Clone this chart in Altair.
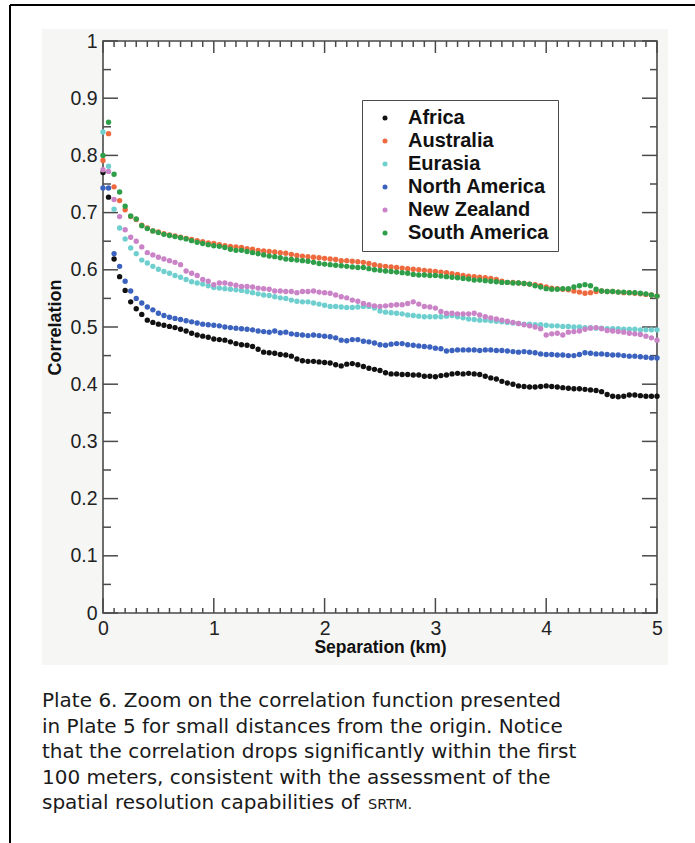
import altair as alt
import pandas as pd

# ---------------- data ----------------
separation_km = [round(0.05 * i, 2) for i in range(101)]  # sample grid, 0 .. 5 km

regions = ["Africa", "Australia", "Eurasia", "North America", "New Zealand", "South America"]
colors = ["#111111", "#EE6A3E", "#6FCFCF", "#3B62BE", "#C983C6", "#2E9E49"]

africa = [
    0.770, 0.727, 0.619, 0.588, 0.564, 0.544, 0.532, 0.522, 0.512, 0.508,
    0.505, 0.503, 0.501, 0.499, 0.496, 0.493, 0.489, 0.486, 0.484, 0.482,
    0.479, 0.478, 0.477, 0.474, 0.471, 0.469, 0.468, 0.466, 0.461, 0.456,
    0.455, 0.454, 0.452, 0.451, 0.449, 0.444, 0.441, 0.440, 0.440, 0.439,
    0.438, 0.437, 0.434, 0.432, 0.435, 0.436, 0.434, 0.431, 0.428, 0.426,
    0.424, 0.420, 0.418, 0.418, 0.417, 0.417, 0.416, 0.416, 0.414, 0.414,
    0.413, 0.415, 0.416, 0.418, 0.419, 0.418, 0.419, 0.418, 0.417, 0.414,
    0.411, 0.409, 0.405, 0.402, 0.400, 0.397, 0.396, 0.395, 0.395, 0.396,
    0.397, 0.396, 0.395, 0.394, 0.393, 0.392, 0.392, 0.391, 0.390, 0.389,
    0.387, 0.382, 0.379, 0.378, 0.379, 0.381, 0.381, 0.380, 0.379, 0.379,
    0.379,
]
australia = [
    0.791, 0.838, 0.745, 0.721, 0.705, 0.693, 0.688, 0.678, 0.673, 0.668,
    0.666, 0.663, 0.661, 0.659, 0.657, 0.655, 0.653, 0.651, 0.649, 0.647,
    0.646, 0.644, 0.642, 0.641, 0.640, 0.639, 0.637, 0.636, 0.634, 0.633,
    0.632, 0.631, 0.630, 0.629, 0.627, 0.625, 0.624, 0.623, 0.622, 0.621,
    0.620, 0.619, 0.618, 0.616, 0.616, 0.615, 0.614, 0.613, 0.611, 0.609,
    0.607, 0.606, 0.605, 0.604, 0.603, 0.602, 0.601, 0.600, 0.599, 0.598,
    0.597, 0.596, 0.595, 0.593, 0.592, 0.590, 0.589, 0.588, 0.587, 0.586,
    0.585, 0.583, 0.580, 0.578, 0.578, 0.577, 0.576, 0.575, 0.574, 0.572,
    0.570, 0.568, 0.567, 0.566, 0.565, 0.563, 0.561, 0.559, 0.560, 0.562,
    0.563, 0.562, 0.562, 0.561, 0.560, 0.560, 0.559, 0.558, 0.557, 0.556,
    0.554,
]
eurasia = [
    0.841, 0.781, 0.706, 0.673, 0.654, 0.638, 0.628, 0.617, 0.612, 0.606,
    0.601, 0.597, 0.594, 0.590, 0.587, 0.583, 0.579, 0.577, 0.575, 0.572,
    0.569, 0.568, 0.567, 0.566, 0.565, 0.564, 0.562, 0.560, 0.558, 0.556,
    0.555, 0.553, 0.551, 0.550, 0.547, 0.545, 0.544, 0.544, 0.542, 0.540,
    0.538, 0.536, 0.536, 0.535, 0.534, 0.534, 0.535, 0.536, 0.536, 0.533,
    0.528, 0.526, 0.525, 0.524, 0.523, 0.521, 0.520, 0.519, 0.518, 0.518,
    0.518, 0.518, 0.519, 0.520, 0.518, 0.516, 0.514, 0.513, 0.512, 0.512,
    0.511, 0.510, 0.509, 0.508, 0.507, 0.506, 0.505, 0.505, 0.504, 0.504,
    0.503, 0.502, 0.502, 0.501, 0.501, 0.500, 0.500, 0.499, 0.499, 0.498,
    0.498, 0.497, 0.497, 0.497, 0.496, 0.496, 0.496, 0.495, 0.495, 0.495,
    0.495,
]
north_america = [
    0.743, 0.743, 0.628, 0.606, 0.580, 0.563, 0.550, 0.542, 0.535, 0.530,
    0.524, 0.520, 0.517, 0.515, 0.513, 0.511, 0.509, 0.507, 0.505, 0.504,
    0.503, 0.502, 0.500, 0.499, 0.498, 0.497, 0.496, 0.495, 0.493, 0.492,
    0.491, 0.493, 0.490, 0.491, 0.488, 0.487, 0.486, 0.485, 0.486, 0.485,
    0.484, 0.483, 0.481, 0.477, 0.476, 0.478, 0.478, 0.475, 0.474, 0.472,
    0.469, 0.468, 0.470, 0.471, 0.471, 0.469, 0.468, 0.467, 0.466, 0.465,
    0.463, 0.462, 0.458, 0.459, 0.460, 0.460, 0.460, 0.460, 0.459, 0.460,
    0.460, 0.459, 0.459, 0.458, 0.457, 0.456, 0.457, 0.456, 0.455, 0.453,
    0.452, 0.452, 0.451, 0.451, 0.450, 0.450, 0.452, 0.455, 0.454, 0.453,
    0.453, 0.452, 0.451, 0.451, 0.450, 0.449, 0.449, 0.448, 0.447, 0.446,
    0.446,
]
new_zealand = [
    0.775, 0.772, 0.723, 0.693, 0.670, 0.657, 0.650, 0.640, 0.630, 0.626,
    0.622, 0.619, 0.616, 0.613, 0.609, 0.598, 0.594, 0.590, 0.583, 0.580,
    0.574, 0.577, 0.577, 0.575, 0.573, 0.571, 0.571, 0.570, 0.568, 0.567,
    0.566, 0.563, 0.563, 0.562, 0.562, 0.560, 0.562, 0.562, 0.563, 0.561,
    0.560, 0.559, 0.556, 0.553, 0.551, 0.547, 0.545, 0.541, 0.539, 0.537,
    0.536, 0.537, 0.538, 0.539, 0.539, 0.541, 0.544, 0.540, 0.536, 0.535,
    0.533, 0.527, 0.524, 0.524, 0.523, 0.523, 0.523, 0.524, 0.521, 0.518,
    0.516, 0.514, 0.512, 0.510, 0.508, 0.506, 0.504, 0.502, 0.500, 0.497,
    0.486, 0.488, 0.489, 0.486, 0.491, 0.492, 0.493, 0.496, 0.498, 0.499,
    0.497, 0.494, 0.493, 0.492, 0.491, 0.489, 0.488, 0.487, 0.484, 0.481,
    0.477,
]
south_america = [
    0.800, 0.858, 0.767, 0.736, 0.711, 0.694, 0.689, 0.677, 0.672, 0.668,
    0.665, 0.662, 0.660, 0.658, 0.656, 0.654, 0.651, 0.648, 0.646, 0.644,
    0.642, 0.641, 0.639, 0.636, 0.634, 0.634, 0.632, 0.630, 0.628, 0.626,
    0.624, 0.623, 0.621, 0.619, 0.618, 0.617, 0.616, 0.615, 0.613, 0.611,
    0.610, 0.609, 0.608, 0.607, 0.606, 0.605, 0.604, 0.604, 0.602, 0.600,
    0.599, 0.598, 0.597, 0.596, 0.595, 0.594, 0.592, 0.591, 0.591, 0.590,
    0.590, 0.589, 0.588, 0.587, 0.586, 0.585, 0.584, 0.582, 0.582, 0.581,
    0.580, 0.579, 0.578, 0.578, 0.577, 0.577, 0.576, 0.575, 0.572, 0.570,
    0.567, 0.566, 0.566, 0.567, 0.567, 0.570, 0.572, 0.574, 0.572, 0.566,
    0.563, 0.562, 0.562, 0.561, 0.561, 0.560, 0.560, 0.559, 0.558, 0.556,
    0.554,
]
series = [africa, australia, eurasia, north_america, new_zealand, south_america]

x_major_ticks = [0, 1, 2, 3, 4, 5]
x_minor_ticks = [round(i / 10, 1) for i in range(51) if i % 10]
y_major_ticks = [0, 0.1, 0.2, 0.3, 0.4, 0.5, 0.6, 0.7, 0.8, 0.9, 1.0]
y_minor_ticks = [0.05, 0.15, 0.25, 0.35, 0.45, 0.55, 0.65, 0.75, 0.85, 0.95]

caption_lines = [
    "Plate 6. Zoom on the correlation function presented",
    "in Plate 5 for small distances from the origin. Notice",
    "that the correlation drops significantly within the first",
    "100 meters, consistent with the assessment of the",
    "spatial resolution capabilities of",
]
caption_tail = "SRTM."

# ---------------- build table ----------------
rows = []
for name, vals in zip(regions, series):
    for xv, yv in zip(separation_km, vals):
        rows.append({"sep": xv, "corr": yv, "region": name})
df = pd.DataFrame(rows)

W, H = 554, 572
AX = "#4a4a4a"
FONT = "Liberation Sans"
CAP_FONT = "DejaVu Sans"
xs = alt.Scale(domain=[0, 5], nice=False, zero=False)
ys = alt.Scale(domain=[0, 1], nice=False, zero=False)
one = pd.DataFrame({"k": [0]})

x_axis = alt.Axis(
    values=x_major_ticks, format="d", ticks=False, tickSize=0, domain=False, grid=False,
    labelFont=FONT, labelFontSize=19.5, labelColor="#222222", labelPadding=6,
    labelFlush=False, labelOverlap=False, zindex=1,
    title="Separation (km)", titleFont=FONT, titleFontSize=17.5, titleFontWeight="bold",
    titleColor="#111111", titlePadding=1)
y_axis = alt.Axis(
    values=y_major_ticks, format=".1~f", ticks=False, tickSize=0, domain=False, grid=False,
    labelFont=FONT, labelFontSize=19.5, labelColor="#222222", labelPadding=6,
    labelFlush=False, labelOverlap=False, zindex=1,
    title="Correlation", titleFont=FONT, titleFontSize=18, titleFontWeight="bold",
    titleColor="#111111", titlePadding=5)

bg = alt.Chart(one).mark_rect(color="#f6f6f5").encode(
    x=alt.value(-61), x2=alt.value(565), y=alt.value(-12), y2=alt.value(624))
plot_bg = alt.Chart(one).mark_rect(color="#ffffff").encode(
    x=alt.value(0), x2=alt.value(W), y=alt.value(0), y2=alt.value(H))


def xticks(vals, y1, y2):
    return alt.Chart(pd.DataFrame({"sep": vals})).mark_rule(color=AX, strokeWidth=1.5).encode(
        x=alt.X("sep:Q", scale=xs, axis=x_axis), y=alt.value(y1), y2=alt.value(y2))


def yticks(vals, x1, x2):
    return alt.Chart(pd.DataFrame({"corr": vals})).mark_rule(color=AX, strokeWidth=1.5).encode(
        y=alt.Y("corr:Q", scale=ys, axis=y_axis), x=alt.value(x1), x2=alt.value(x2))


tick_layers = [
    xticks(x_major_ticks, H, H - 15), xticks(x_minor_ticks, H, H - 5),
    xticks(x_major_ticks, 0, 12), xticks(x_minor_ticks, 0, 6),
    yticks(y_major_ticks, 0, 15), yticks(y_minor_ticks, 0, 8),
    yticks(y_major_ticks, W, W - 15), yticks(y_minor_ticks, W, W - 7),
]

frame = alt.Chart(one).mark_rect(fillOpacity=0, stroke=AX, strokeWidth=1.6).encode(
    x=alt.value(0), x2=alt.value(W), y=alt.value(0), y2=alt.value(H))

points = alt.Chart(df).mark_circle(size=29, opacity=1).encode(
    x=alt.X("sep:Q", scale=xs, axis=x_axis),
    y=alt.Y("corr:Q", scale=ys, axis=y_axis),
    color=alt.Color("region:N", sort=regions, scale=alt.Scale(domain=regions, range=colors),
                    legend=alt.Legend(
                        title=None, orient="none", legendX=259, legendY=59,
                        fillColor="white", strokeColor=AX, padding=8, rowPadding=3,
                        labelFont=FONT, labelFontSize=20, labelFontWeight="bold",
                        labelColor="#111111", symbolType="circle", symbolSize=25,
                        symbolStrokeWidth=0, symbolOffset=5, labelOffset=13)),
)

caption = alt.Chart(one).mark_text(
    align="left", baseline="alphabetic", font=CAP_FONT, fontSize=20, lineHeight=25.6,
    color="#1a1a1a").encode(x=alt.value(-61), y=alt.value(666), text=alt.value(caption_lines))
caption_sc = alt.Chart(one).mark_text(
    align="left", baseline="alphabetic", font=CAP_FONT, fontSize=14.5, color="#1a1a1a").encode(
    x=alt.value(265), y=alt.value(666 + 4 * 25.6), text=alt.value(caption_tail))

outer_top = alt.Chart(one).mark_rule(color="#000000", strokeWidth=2).encode(
    x=alt.value(-93), x2=alt.value(600), y=alt.value(-36))
outer_left = alt.Chart(one).mark_rule(color="#000000", strokeWidth=2).encode(
    x=alt.value(-93), y=alt.value(-36), y2=alt.value(810))

chart = alt.layer(
    bg, plot_bg, *tick_layers, frame, points, caption, caption_sc, outer_top, outer_left
).properties(
    width=W, height=H,
    padding={"left": 103, "top": 41, "right": 38, "bottom": 230},
    autosize=alt.AutoSizeParams(type="none"),
    background="white",
).configure_view(strokeWidth=0)

chart.save("out.html", embed_options={"renderer": "svg", "actions": False})
